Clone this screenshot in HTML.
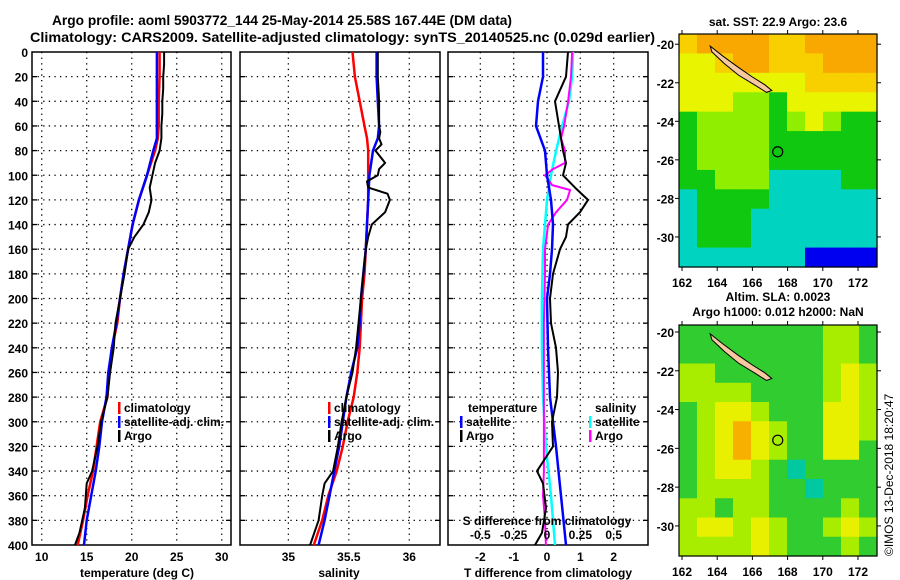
<!DOCTYPE html>
<html><head><meta charset="utf-8">
<style>
html,body{margin:0;padding:0;background:#fff;}
svg{display:block;font-family:"Liberation Sans",Arial,sans-serif;font-weight:bold;}
</style></head>
<body>
<svg id="chart" width="900" height="580" viewBox="0 0 900 580">
<text x="52" y="25" font-size="14" textLength="460" lengthAdjust="spacingAndGlyphs">Argo profile: aoml 5903772_144 25-May-2014 25.58S 167.44E (DM data)</text>
<text x="30" y="42" font-size="14" textLength="625" lengthAdjust="spacingAndGlyphs">Climatology: CARS2009. Satellite-adjusted climatology: synTS_20140525.nc (0.029d earlier)</text>
<text x="778" y="26" font-size="12" text-anchor="middle">sat. SST: 22.9 Argo: 23.6</text>
<text x="778" y="301" font-size="12" text-anchor="middle">Altim. SLA: 0.0023</text>
<text x="778" y="316" font-size="12" text-anchor="middle">Argo h1000: 0.012 h2000: NaN</text>
<text transform="translate(893,556) rotate(-90)" font-size="12" font-weight="normal">©IMOS 13-Dec-2018 18:20:47</text>
<g id="plots"></g>
</svg>
<script>
// ---- profile data ----
const tClimDepth = [0,20,40,60,70,80,100,120,140,160,180,200,220,240,260,280,300,320,340,360,380,400];
const tClimVals  = [23.1,23.1,23.0,23.0,22.9,22.6,21.7,20.8,20.1,19.6,19.1,18.7,18.4,17.8,17.5,17.3,16.5,16.1,15.7,15.1,14.6,14.0];
const tSatVals   = [22.8,22.8,22.8,22.8,22.8,22.4,21.7,20.8,20.1,19.6,19.1,18.7,18.3,17.8,17.4,17.2,16.7,16.4,16.0,15.5,15.0,14.7];
const argoTDepth = [0,10,20,30,40,50,60,70,80,90,100,110,120,130,140,150,160,180,200,220,240,260,280,300,320,340,350,360,370,380,390,400];
const argoTVals  = [23.6,23.6,23.5,23.5,23.4,23.4,23.3,23.3,23.1,22.6,22.3,22.0,22.2,21.9,21.3,20.3,19.6,19.2,18.7,18.2,18.0,17.6,17.3,16.6,16.2,15.6,15.0,14.9,14.8,14.5,14.2,13.7];

const sClimVals  = [35.53,35.55,35.59,35.63,35.65,35.66,35.66,35.66,35.65,35.64,35.63,35.61,35.60,35.59,35.57,35.54,35.49,35.45,35.40,35.33,35.28,35.21];
const sSatVals   = [35.73,35.73,35.74,35.75,35.74,35.70,35.67,35.66,35.65,35.64,35.62,35.60,35.59,35.57,35.52,35.48,35.45,35.42,35.38,35.34,35.30,35.25];
const argoSDepth = [0,20,40,60,65,70,75,80,85,90,95,100,105,110,115,120,130,140,150,160,180,200,220,240,260,280,300,320,340,350,360,380,400];
const argoSVals  = [35.74,35.74,35.75,35.75,35.76,35.75,35.77,35.72,35.76,35.80,35.75,35.74,35.65,35.66,35.82,35.84,35.80,35.69,35.66,35.64,35.62,35.60,35.58,35.56,35.53,35.48,35.44,35.41,35.37,35.30,35.28,35.25,35.18];

const dTSatDepth = [0,20,40,60,80,100,120,140,160,180,200,240,280,320,360,400];
const dTSatVals  = [-0.12,-0.12,-0.27,-0.33,-0.06,0,0.12,0.18,0.15,0.09,0,0.03,0.09,0.27,0.42,0.57];
const dTArgoDepth = [0,20,40,60,80,90,100,110,120,130,140,150,160,180,200,220,240,260,280,300,320,340,350,370,390,400];
const dTArgoVals  = [0.63,0.57,0.24,0.36,0.48,0.57,0.48,0.84,1.23,0.99,0.63,0.57,0.39,0.18,0.09,0.12,0.27,0.33,0.30,0.15,0.18,-0.30,-0.12,-0.03,-0.15,-0.36];
const dSSatDepth = [0,20,40,60,80,100,120,140,160,200,240,280,320,360,400];
const dSSatVals  = [0.195,0.188,0.165,0.113,0.068,0.030,0,-0.015,-0.030,-0.038,-0.038,-0.030,-0.008,0.030,0.060];
const dSArgoDepth = [0,20,40,60,70,80,90,95,100,108,112,120,130,140,160,180,220,260,290,320,340,360,380,400];
const dSArgoVals  = [0.188,0.180,0.158,0.128,0.105,0.135,0.135,0.045,-0.015,0.038,0.173,0.150,0.068,0.008,-0.015,-0.015,-0.023,-0.023,-0.023,-0.023,-0.023,-0.030,-0.015,-0.008];

const depthTicks = [0,20,40,60,80,100,120,140,160,180,200,220,240,260,280,300,320,340,360,380,400];
const tTicks = [10,15,20,25,30];
const sTicks = [35,35.5,36];
const sTickLabels = ["35","35.5","36"];
const dTTicks = [-2,-1,0,1,2];
const dSTicks = [-0.5,-0.25,0,0.25,0.5];
const dSTickLabels = ["-0.5","-0.25","0","0.25","0.5"];

// ---- map data ----
const sstLevels = [
 [4,5,5,5,5,4,4,5,5,5,5],
 [3,3,4,5,5,4,4,4,5,5,5],
 [3,3,3,3,3,3,3,4,4,4,4],
 [3,3,3,2,2,1,3,3,3,3,3],
 [1,2,2,2,2,1,2,3,2,1,1],
 [1,2,2,2,2,1,1,1,1,1,1],
 [1,2,2,2,2,1,1,1,1,1,1],
 [1,1,2,2,2,0,0,0,0,1,1],
 [0,1,1,1,1,0,0,0,0,0,0],
 [0,1,1,1,0,0,0,0,0,0,0],
 [0,1,1,1,0,0,0,0,0,0,0],
 [0,0,0,0,0,0,0,-1,-1,-1,-1]];
const slaLevels = [
 [1,1,1,1,1,1,1,1,2,2,1],
 [1,1,1,1,1,1,1,1,2,2,1],
 [2,2,1,1,1,1,1,1,2,3,2],
 [2,2,2,2,1,1,1,1,2,3,2],
 [1,2,3,3,2,1,1,1,3,3,2],
 [1,2,3,4,3,2,1,1,3,3,2],
 [1,2,3,4,3,2,1,1,3,3,1],
 [1,2,3,3,2,1,0,1,1,1,1],
 [1,2,2,2,2,1,1,0,1,1,1],
 [2,2,1,2,2,1,1,1,1,2,1],
 [2,3,3,2,3,2,1,1,2,3,2],
 [2,2,2,2,3,2,1,1,1,2,1]];
const lonTicks = [162,164,166,168,170,172];
const latTicks = [-20,-22,-24,-26,-28,-30];
const islandLon = [163.6,164.3,165.2,166.0,166.7,167.1,166.8,166.1,165.2,164.4,163.7];
const islandLat = [-20.1,-20.6,-21.2,-21.7,-22.1,-22.4,-22.5,-22.1,-21.6,-21.0,-20.4];
const argoLon = 167.44, argoLat = -25.58;

const NS='http://www.w3.org/2000/svg';
const root=document.getElementById('plots');
function mk(tag,attrs,parent){const e=document.createElementNS(NS,tag);for(const k in attrs)e.setAttribute(k,attrs[k]);(parent||root).appendChild(e);return e;}
const Y0=52,Y1=545;
const yOf=d=>Y0+(d/400)*(Y1-Y0);

function panel(name,x0,x1,xmin,xmax,xticks,xlabels,depthLabels){
  const g=mk('g',{});
  
  
  const xs=v=>x0+(v-xmin)/(xmax-xmin)*(x1-x0);
  for(const d of depthTicks){ if(d===0||d===400)continue;
    const l=mk('line',{x1:x0,x2:x1,y1:yOf(d),y2:yOf(d),stroke:'#000','stroke-width':1.3,'stroke-dasharray':'1.3 4.3'},g);
    
    
    mk('line',{x1:x0,x2:x0+5,y1:yOf(d),y2:yOf(d),stroke:'#000','stroke-width':1.3},g);
    mk('line',{x1:x1-5,x2:x1,y1:yOf(d),y2:yOf(d),stroke:'#000','stroke-width':1.3},g);
  }
  xticks.forEach((v,i)=>{
    const x=xs(v);
    const l=mk('line',{x1:x,x2:x,y1:Y0,y2:Y1,stroke:'#000','stroke-width':1.3,'stroke-dasharray':'1.3 4.3'},g);
    
    
    const t=mk('text',{x:x,y:561,'font-size':12,'text-anchor':'middle'},g);
    t.textContent=xlabels[i];
    
    
  });
  const fr=mk('rect',{x:x0,y:Y0,width:x1-x0,height:Y1-Y0,fill:'none',stroke:'#000','stroke-width':1.5},g);
  
  
  if(depthLabels){ for(const d of depthTicks){
    const t=mk('text',{x:28,y:yOf(d)+5,'font-size':12,'text-anchor':'end'},g);
    t.textContent=String(d);
    
    
  }}
  return {g,xs};
}
function series(p,depths,vals,color,w,name,scale){
  const pts=depths.map((d,i)=>p.xs(vals[i]*(scale||1)).toFixed(1)+','+yOf(d).toFixed(1)).join(' ');
  const pl=mk('polyline',{points:pts,fill:'none',stroke:color,'stroke-width':w,'stroke-linejoin':'round'},p.g);
  
  
}
function label(g,x,y,txt,name,size,anchor){
  const t=mk('text',{x:x,y:y,'font-size':size||12,'text-anchor':anchor||'start'},g);
  t.textContent=txt;
  
  
  return t;
}
function legendItem(g,x,y,color,txt,name){
  mk('rect',{x:x,y:y-10,width:2.5,height:12,fill:color},g);
  label(g,x+6,y,txt,name);
}

// Panel 1: temperature
const p1=panel('temperature-panel',32,231,8.92,31.03,tTicks,tTicks.map(String),true);
series(p1,tClimDepth,tClimVals,'#f00',2.5,'temperature-climatology-line');
series(p1,tClimDepth,tSatVals,'#00f',2.5,'temperature-satellite-line');
series(p1,argoTDepth,argoTVals,'#000',2,'temperature-argo-line');
legendItem(p1.g,118,412,'#f00','climatology','legend-climatology');
legendItem(p1.g,118,426,'#00f','satellite-adj. clim.','legend-satellite');
legendItem(p1.g,118,440,'#000','Argo','legend-argo');
label(p1.g,137,577,'temperature (deg C)','x-axis-title-temperature',12,'middle');

// Panel 2: salinity
const p2=panel('salinity-panel',240,440,34.60,36.254,sTicks,sTickLabels,false);
series(p2,tClimDepth,sClimVals,'#f00',2.5,'salinity-climatology-line');
series(p2,tClimDepth,sSatVals,'#00f',2.5,'salinity-satellite-line');
series(p2,argoSDepth,argoSVals,'#000',2,'salinity-argo-line');
legendItem(p2.g,328,412,'#f00','climatology','legend-climatology');
legendItem(p2.g,328,426,'#00f','satellite-adj. clim.','legend-satellite');
legendItem(p2.g,328,440,'#000','Argo','legend-argo');
label(p2.g,339,577,'salinity','x-axis-title-salinity',12,'middle');

// Panel 3: differences
const p3=panel('difference-panel',448,648,-2.97,3.03,dTTicks,dTTicks.map(String),false);
series(p3,dSSatDepth,dSSatVals,'#0ff',2.5,'salinity-diff-satellite-line',4);
series(p3,dSArgoDepth,dSArgoVals,'#f0f',2,'salinity-diff-argo-line',4);
series(p3,dTSatDepth,dTSatVals,'#00f',2.5,'temperature-diff-satellite-line');
series(p3,dTArgoDepth,dTArgoVals,'#000',2,'temperature-diff-argo-line');
label(p3.g,468,412,'temperature','legend-temperature-heading');
legendItem(p3.g,460,426,'#00f','satellite','legend-temp-satellite');
legendItem(p3.g,460,440,'#000','Argo','legend-temp-argo');
label(p3.g,595,412,'salinity','legend-salinity-heading');
legendItem(p3.g,589,426,'#0ff','satellite','legend-sal-satellite');
legendItem(p3.g,589,440,'#f0f','Argo','legend-sal-argo');
label(p3.g,547,525,'S difference from climatology','s-axis-title',12,'middle');
dSTicks.forEach((v,i)=>label(p3.g,p3.xs(v*4),539,dSTickLabels[i],'s-tick-label',12,'middle'));
label(p3.g,548,577,'T difference from climatology','x-axis-title-tdiff',12,'middle');

// Maps
const sstColors={'-1':'#0000f0','0':'#00d4c0','1':'#10c810','2':'#90ee00','3':'#e8f400','4':'#f8d000','5':'#f8a800'};
const slaColors={'0':'#00c8a0','1':'#30cc30','2':'#a8ec00','3':'#e8f000','4':'#f8b000'};
function drawMap(name,grid,colors,x0,x1,y0,y1,lonMin,lonMax,latTop,latBot){
  const g=mk('g',{});
  
  
  const lx=lon=>x0+(lon-lonMin)/(lonMax-lonMin)*(x1-x0);
  const ly=lat=>y0+(latTop-lat)/(latTop-latBot)*(y1-y0);
  const rows=grid.length, cols=grid[0].length;
  const cw=(x1-x0)/cols, ch=(y1-y0)/rows;
  grid.forEach((row,r)=>row.forEach((v,c)=>{
    const cell=mk('rect',{x:x0+c*cw,y:y0+r*ch,width:cw+0.6,height:ch+0.6,fill:colors[String(v)]},g);
    
    
  }));
  const isl=mk('polygon',{points:islandLon.map((lo,i)=>lx(lo).toFixed(1)+','+ly(islandLat[i]).toFixed(1)).join(' '),fill:'#f8c8a0',stroke:'#000','stroke-width':1},g);
  
  
  const c=mk('circle',{cx:lx(argoLon),cy:ly(argoLat),r:5,fill:'none',stroke:'#000','stroke-width':1.2},g);
  
  
  const fr=mk('rect',{x:x0,y:y0,width:x1-x0,height:y1-y0,fill:'none',stroke:'#000','stroke-width':1.2},g);
  
  
  for(const lo of lonTicks){
    const x=lx(lo);
    mk('line',{x1:x,x2:x,y1:y1,y2:y1+4,stroke:'#000'},g);
    mk('line',{x1:x,x2:x,y1:y0,y2:y0-4,stroke:'#000'},g);
    label(g,x,y1+20,String(lo),'map-lon-tick-label',12,'middle');
  }
  for(const la of latTicks){
    const y=ly(la);
    mk('line',{x1:x0,x2:x0-4,y1:y,y2:y,stroke:'#000'},g);
    mk('line',{x1:x1,x2:x1+4,y1:y,y2:y,stroke:'#000'},g);
    label(g,x0-5,y+5,String(la),'map-lat-tick-label',12,'end');
  }
}
drawMap('sst-map',sstLevels,sstColors,679,877,34,267,161.83,173.08,-19.47,-31.56);
drawMap('sla-map',slaLevels,slaColors,679,877,325,556,161.83,173.08,-19.64,-31.55);
</script>
</body></html>
